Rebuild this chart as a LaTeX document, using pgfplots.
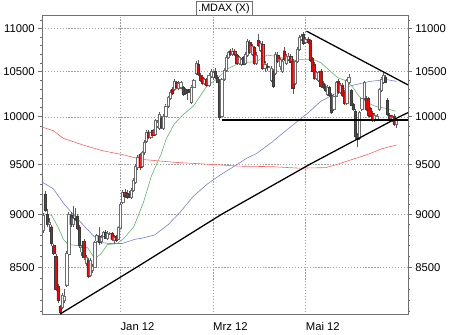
\documentclass[border=0pt]{standalone}
\usepackage{pgfplots}
\pgfplotsset{compat=1.18}
\usepackage{pgfplotstable}
\usepackage{fontspec}
\setmainfont{Liberation Sans}

\definecolor{candlered}{HTML}{FF0000}
\definecolor{wickgray}{HTML}{5A5A5A}
\definecolor{whiteedge}{HTML}{6E6E6E}
\definecolor{rededge}{HTML}{3A3A3A}
\definecolor{magreen}{HTML}{5DB56A}
\definecolor{mablue}{HTML}{7080D0}
\definecolor{mared}{HTML}{FF6060}
\definecolor{gridgray}{HTML}{A0A0A0}
\definecolor{framegray}{HTML}{707070}

\pgfplotstableread{
x O H L C
-36 8850 9010 8820 8990
-35 9200 9230 9020 9040
-34 9000 9050 8880 8900
-33 8900 8960 8830 8920
-32 8880 8900 8700 8720
-31 8700 8720 8610 8630
-30 8600 8620 8280 8300
-29 8330 8350 8180 8200
-28 8150 8160 8080 8100
-27 8140 8270 8120 8250
-26 8200 8300 8180 8240
-25 8340 8650 8320 8630
-24 8620 9020 8600 9000
-23 8990 9020 8880 8900
-22 8900 9080 8880 8960
-21 8960 9060 8930 8950
-20 8980 9000 8850 8870
-19 8880 8900 8680 8700
-18 8640 8710 8600 8690
-17 8740 8760 8570 8590
-16 8540 8610 8510 8590
-15 8560 8580 8400 8420
-14 8430 8580 8410 8560
-13 8470 8530 8450 8510
-12 8500 8740 8490 8730
-11 8740 8810 8720 8800
-10 8790 8880 8710 8730
-9 8740 8800 8720 8780
-8 8790 8840 8780 8830
-7 8830 8850 8760 8770
-6 8770 8840 8750 8820
-5 8815 8830 8800 8820
-4 8820 8830 8740 8760
-3 8750 8800 8720 8780
-2 8790 8800 8730 8750
-1 8760 8890 8750 8880
0 8870 9120 8860 9100
1 9120 9240 9100 9220
2 9220 9250 9160 9180
3 9210 9240 9150 9170
4 9200 9230 9160 9170
5 9170 9260 9150 9240
6 9240 9360 9220 9340
7 9320 9500 9300 9480
8 9470 9590 9440 9570
9 9600 9620 9440 9470
10 9480 9640 9460 9620
11 9620 9750 9600 9730
12 9740 9860 9720 9840
13 9840 9860 9760 9780
14 9780 9840 9760 9830
15 9860 9870 9790 9800
16 9810 9980 9790 9960
17 9900 9960 9880 9940
18 9880 10050 9860 10030
19 9990 10010 9870 9890
20 9880 10030 9860 10010
21 10010 10140 10000 10120
22 10120 10230 10100 10210
23 10200 10290 10180 10270
24 10300 10330 10240 10260
25 10300 10420 10280 10390
26 10380 10400 10300 10320
27 10310 10390 10290 10370
28 10320 10390 10300 10380
29 10320 10340 10230 10250
30 10300 10320 10240 10260
31 10290 10300 10180 10270
32 10300 10310 10260 10280
33 10160 10350 10140 10330
34 10330 10420 10320 10400
35 10480 10620 10460 10600
36 10590 10630 10450 10470
37 10460 10490 10380 10400
38 10440 10460 10350 10370
39 10370 10430 10350 10410
40 10410 10430 10330 10350
41 10350 10480 10330 10460
42 10450 10530 10430 10500
43 10440 10510 10410 10490
44 10510 10540 10420 10440
45 10440 10460 10370 10380
46 10400 10420 9965 10000
47 10010 10430 10000 10410
48 10420 10540 10400 10520
49 10520 10690 10500 10670
50 10660 10740 10640 10720
51 10740 10760 10680 10700
52 10700 10770 10680 10740
53 10740 10760 10680 10700
54 10690 10700 10580 10600
55 10600 10680 10570 10660
56 10580 10660 10560 10640
57 10660 10680 10570 10590
58 10600 10720 10580 10700
59 10690 10880 10670 10850
60 10840 10870 10700 10720
61 10700 10820 10680 10790
62 10780 10800 10580 10600
63 10600 10720 10580 10690
64 10860 10940 10780 10800
65 10750 10850 10720 10830
66 10820 10850 10520 10540
67 10540 10620 10500 10590
68 10560 10600 10510 10550
69 10550 10560 10540 10550
70 10400 10560 10380 10540
71 10510 10530 10320 10340
72 10480 10720 10460 10700
73 10690 10720 10600 10620
74 10560 10660 10520 10640
75 10500 10650 10480 10620
76 10740 10780 10620 10640
77 10600 10700 10580 10680
78 10640 10710 10620 10680
79 10680 10700 10600 10610
80 10620 10640 10250 10310
81 10370 10630 10350 10620
82 10620 10780 10600 10760
83 10760 10920 10740 10900
84 10880 10930 10850 10910
85 10930 10960 10810 10830
86 10840 10900 10820 10880
87 10880 10900 10820 10840
88 10860 10880 10610 10630
89 10650 10670 10500 10510
90 10590 10610 10410 10430
91 10430 10510 10410 10490
92 10400 10510 10380 10490
93 10510 10530 10320 10340
94 10370 10400 10300 10320
95 10340 10360 10270 10290
96 10250 10350 10230 10330
97 10320 10340 10220 10240
98 10240 10260 10030 10050
99 10080 10250 10060 10230
100 10230 10400 10220 10380
101 10390 10420 10250 10270
102 10270 10370 10250 10350
103 10350 10370 10220 10240
104 10270 10290 10130 10150
105 10150 10420 10130 10400
106 10380 10470 10360 10440
107 10290 10310 10120 10130
108 10140 10150 10060 10080
109 10060 10080 9760 9790
110 9810 9830 9680 9760
111 9770 10060 9750 10050
112 10080 10210 10060 10200
113 10200 10400 10180 10380
114 10200 10230 10060 10080
115 10200 10220 10000 10020
116 10090 10110 10000 10010
117 10040 10060 9940 9960
118 9960 10040 9940 10020
119 9970 10030 9950 10010
120 10080 10320 10060 10300
121 10290 10440 10270 10420
122 10380 10490 10360 10460
123 10440 10460 10370 10380
124 10180 10200 10010 10030
125 10020 10040 9960 9980
126 9960 10020 9940 10000
127 10010 10030 9900 9920
128 9920 9990 9880 9960
}\candles

\begin{document}
\begin{tikzpicture}
\begin{axis}[
  at={(38.3pt,16.7pt)}, anchor=south west,
  scale only axis, width=373.4pt, height=305.3pt,
  xmin=-36.4, xmax=133.5, ymin=8073, ymax=11156,
  ymode=log,
  ytick={8500,9000,9500,10000,10500,11000},
  yticklabels={8500,9000,9500,10000,10500,11000},
  minor ytick={8100,8200,8300,8400,8600,8700,8800,8900,9100,9200,9300,9400,9600,9700,9800,9900,10100,10200,10300,10400,10600,10700,10800,10900,11100},
  tick align=outside,
  major tick length=4pt, minor tick length=2.2pt,
  tick label style={font=\fontsize{11.5}{13}\selectfont},
  axis line style={framegray, line width=0.8pt},
  xtick={0,43,86}, xticklabels={Jan 12, Mrz 12, Mai 12},
  xtick style={draw=none},
  xticklabel style={anchor=north west, inner xsep=0pt, yshift=-0.5pt},
  ytick pos=both, yticklabel pos=left,
  ytick style={framegray, line width=0.6pt},
  minor y tick style={framegray, line width=0.5pt},
  grid=major,
  major grid style={gridgray, line width=0.5pt, dash pattern=on 1.3pt off 1.7pt},
]
% 200-day average (red)
\addplot[mared, line width=0.6pt] coordinates {
(-36.4,9890) (-31.1,9850) (-26.5,9770) (-17.4,9700) (-8.3,9640) (0.8,9600)
(9.9,9550) (24.9,9520) (40.4,9500) (55.4,9480) (70.4,9475) (82.7,9460)
(95.3,9465) (100.8,9500) (107.7,9550) (114.6,9600) (121.3,9660) (128.2,9700)};
% long average (blue)
\addplot[mablue, line width=0.6pt] coordinates {
(-36.4,9320) (-31.1,9250) (-26.5,9110) (-22,9000) (-17.4,8900) (-12.9,8800)
(-9.2,8730) (-5.1,8720) (0.8,8720) (6.7,8760) (9.9,8770) (15.8,8800)
(22.2,8900) (28.1,9030) (34,9180) (40.4,9300) (46.3,9390) (52.2,9470)
(58.5,9560) (63.1,9610) (70.4,9730) (76.7,9850) (82.7,9960) (87.2,10045)
(93.1,10170) (99.5,10250) (105.4,10330) (108.6,10350) (115.8,10390)
(123.6,10410) (128.2,10390)};
% short average (green)
\addplot[magreen, line width=0.6pt] coordinates {
(-36.4,9010) (-32,8990) (-28.8,8870) (-26.5,8760) (-24.2,8710) (-19.7,8700)
(-15.2,8680) (-12,8580) (-9.2,8620) (-6,8710) (-1.5,8720) (1.7,8770)
(6.2,8880) (10.6,9110) (14.4,9380) (19,9610) (21.2,9760) (24.9,9920)
(29,10020) (34,10120) (39.9,10330) (44.9,10420) (49.5,10530) (55.4,10600)
(63.1,10615) (68.1,10690) (73.6,10670) (79.5,10615) (82.7,10640) (89.5,10640)
(93.1,10600) (97.7,10500) (100.9,10430) (104.5,10400) (107.7,10330)
(110.9,10220) (114.6,10150) (119,10110) (123.6,10090) (127.7,10060)};
% candles
\pgfplotstablegetrowsof{\candles}
\pgfmathtruncatemacro{\nrows}{\pgfplotsretval-1}
\pgfplotsforeachungrouped \r in {0,...,\nrows}{
  \pgfplotstablegetelem{\r}{x}\of\candles \let\cx\pgfplotsretval
  \pgfplotstablegetelem{\r}{O}\of\candles \let\cO\pgfplotsretval
  \pgfplotstablegetelem{\r}{H}\of\candles \let\cH\pgfplotsretval
  \pgfplotstablegetelem{\r}{L}\of\candles \let\cL\pgfplotsretval
  \pgfplotstablegetelem{\r}{C}\of\candles \let\cC\pgfplotsretval
  \pgfmathsetmacro\xl{\cx-0.52}
  \pgfmathsetmacro\xr{\cx+0.52}
  \addplot[wickgray, line width=0.45pt] coordinates {(\cx,\cL) (\cx,\cH)};
  \ifdim \cC pt < \cO pt
    \addplot[draw=rededge, fill=candlered, line width=0.35pt] coordinates {(\xl,\cO) (\xr,\cO) (\xr,\cC) (\xl,\cC) (\xl,\cO)};
  \else
    \addplot[draw=whiteedge, fill=white, line width=0.35pt] coordinates {(\xl,\cO) (\xr,\cO) (\xr,\cC) (\xl,\cC) (\xl,\cO)};
  \fi
}
% trend lines
\addplot[black, line width=1.3pt] coordinates {(-28,8080) (7.6,8500) (47,9000) (88,9500) (129.5,10000) (133.5,10045)};
\addplot[black, line width=1.3pt] coordinates {(86.4,10970) (133.5,10350)};
\addplot[black, line width=1.3pt] coordinates {(47,9965) (133.5,9965)};
\end{axis}
\begin{axis}[
  at={(38.3pt,16.7pt)}, anchor=south west,
  scale only axis, width=373.4pt, height=305.3pt,
  xmin=-36.4, xmax=133.5, ymin=8073, ymax=11156,
  ymode=log,
  ytick={8500,9000,9500,10000,10500,11000},
  yticklabels={8500,9000,9500,10000,10500,11000},
  tick align=outside,
  major tick length=4pt,
  tick label style={font=\fontsize{11.5}{13}\selectfont},
  xtick=\empty,
  axis x line=none,
  axis y line*=right,
  y axis line style={draw=none},
  ytick style={draw=none},
  yticklabel pos=right,
]
\addplot[draw=none] coordinates {(0,9000)};
\end{axis}
\node[draw=framegray, fill=white, line width=0.6pt, font=\fontsize{11}{13}\selectfont,
  inner xsep=2.5pt, inner ysep=1.5pt, minimum height=13.5pt] at (224pt,329.6pt) {.MDAX (X)};
\path[use as bounding box] (0,0) rectangle (450pt,338pt);
\end{tikzpicture}
\end{document}
